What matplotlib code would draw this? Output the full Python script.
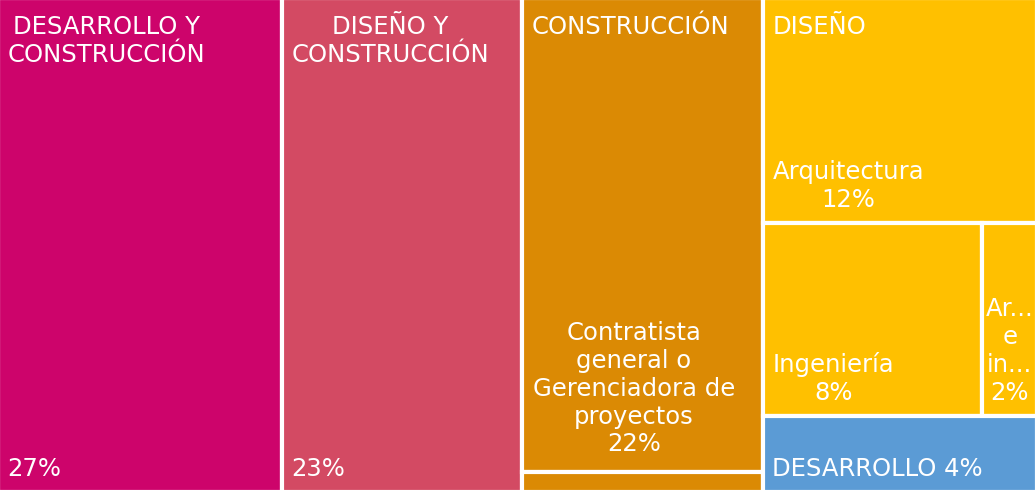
import matplotlib.pyplot as plt
from matplotlib.patches import Rectangle

plt.rcParams['font.family'] = ['DejaVu Sans']

grupos = ["DESARROLLO Y\nCONSTRUCCIÓN", "DISEÑO Y\nCONSTRUCCIÓN", "CONSTRUCCIÓN",
          "CONSTRUCCIÓN", "DISEÑO", "DISEÑO", "DISEÑO", "DESARROLLO"]
etiquetas = ["27%", "23%",
             "Contratista\ngeneral o\nGerenciadora de\nproyectos\n22%", "",
             "Arquitectura\n12%", "Ingeniería\n8%", "Ar...\ne\nin...\n2%",
             "DESARROLLO 4%"]
valores = [27.3, 23.1, 22.2, 0.95, 12.0, 8.25, 2.06, 4.07]
colores = ["#CD046B", "#D34A63", "#DB8A04", "#DB8A04",
           "#FFC000", "#FFC000", "#FFC000", "#5B9BD5"]

total = sum(valores)

# --- layout: columnas, luego cortes dentro de cada columna ---
rects = [None] * len(valores)
x = 0.0
for i in [0, 1]:
    rects[i] = (x, 0.0, valores[i], 1.0)
    x += valores[i]

w3 = valores[2] + valores[3]
y = 0.0
for i in [2, 3]:
    h = valores[i] / w3
    rects[i] = (x, y, w3, h)
    y += h
x += w3

w4 = sum(valores[4:8])
h_arq = valores[4] / w4
rects[4] = (x, 0.0, w4, h_arq)
h_fila = (valores[5] + valores[6]) / w4
xx = x
for i in [5, 6]:
    ww = valores[i] / h_fila
    rects[i] = (xx, h_arq, ww, h_fila)
    xx += ww
y = h_arq + h_fila
rects[7] = (x, y, w4, valores[7] / w4)

fig = plt.figure(figsize=(10.35, 4.9), dpi=100)
ax = fig.add_axes([-0.002, -0.004, 1.004, 1.008])
ax.set_xlim(0, total)
ax.set_ylim(1, 0)
ax.axis('off')

for (rx, ry, rw, rh), c in zip(rects, colores):
    ax.add_patch(Rectangle((rx, ry), rw, rh, facecolor=c, edgecolor='white', linewidth=3))

fs = 17.5
txt = dict(color='white', fontsize=fs, linespacing=1.2, multialignment='center')

# encabezados de grupo (arriba a la izquierda)
for i in [0, 1, 2, 4]:
    rx, ry, rw, rh = rects[i]
    ax.annotate(grupos[i], xy=(rx, ry), xytext=(7, -12), textcoords='offset points',
                ha='left', va='top', **txt)

# etiquetas de hojas
for i in [0, 1, 4, 5, 7]:
    rx, ry, rw, rh = rects[i]
    ax.annotate(etiquetas[i], xy=(rx, ry + rh), xytext=(7, 8), textcoords='offset points',
                ha='left', va='bottom', **txt)
for i, dx, dy in [(2, -6, 11), (6, 0, 8)]:
    rx, ry, rw, rh = rects[i]
    ax.annotate(etiquetas[i], xy=(rx + rw / 2, ry + rh), xytext=(dx, dy),
                textcoords='offset points', ha='center', va='bottom', **txt)

fig.savefig('out.png', dpi=100)
